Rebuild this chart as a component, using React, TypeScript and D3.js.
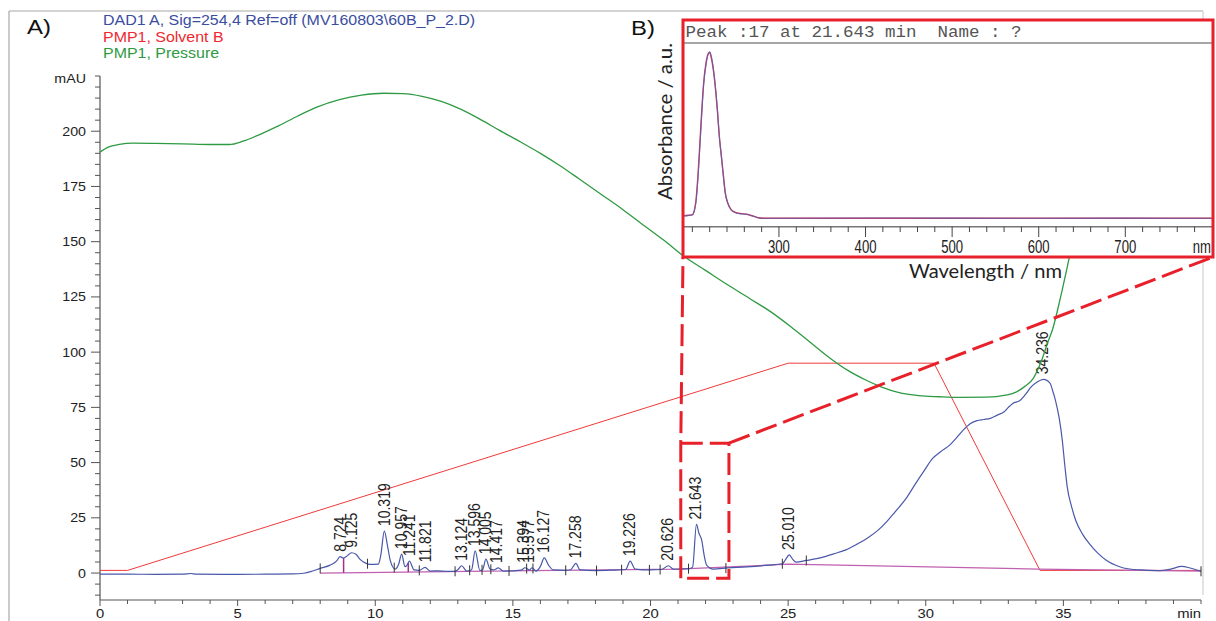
import React from 'react';
import * as d3 from 'd3';

const W = 1216;
const H = 621;

const LEGEND_LABELS = [
  'DAD1 A, Sig=254,4 Ref=off (MV160803\\60B_P_2.D)',
  'PMP1, Solvent B',
  'PMP1, Pressure',
];
const LEGEND_COLORS = ['#3a4da0', '#ee2a30', '#2f9a43'];

const X_MAJOR = [0, 5, 10, 15, 20, 25, 30, 35];
const Y_MAJOR = [0, 25, 50, 75, 100, 125, 150, 175, 200];

// DAD1 A chromatogram (time min, mAU)
const CHROM: [number, number][] = [
  [0, -0.5], [1, -0.5], [2, -0.6], [3, -0.5], [3.3, -0.2], [3.5, -0.5], [5, -0.6], [6, -0.5], [7, -0.4],
  [7.4, -0.1], [7.7, 0.8], [8.0, 2.1], [8.36, 3.6], [8.6, 5.5], [8.72, 7.4], [8.85, 6.8], [8.95, 7.5],
  [9.14, 9.2], [9.3, 8.5], [9.45, 6.2], [9.65, 4.5], [9.81, 3.9], [10.11, 4.0], [10.2, 8], [10.33, 19.0],
  [10.45, 12], [10.55, 5.5], [10.72, 1.8], [10.85, 4], [10.96, 8.6], [11.08, 2.9], [11.15, 3.5], [11.24, 5.4],
  [11.41, 1.4], [11.6, 1.2], [11.81, 2.6], [11.99, 0.9], [12.3, 1.0], [12.6, 0.8], [12.9, 0.8], [13.0, 1.5],
  [13.14, 3.3], [13.32, 0.9], [13.5, 1.5], [13.63, 10.0], [13.8, 1.2], [13.9, 1.5], [14.02, 6.3], [14.17, 1.8],
  [14.3, 1.4], [14.47, 2.3], [14.65, 0.9], [15.0, 1.0], [15.3, 1.3], [15.44, 2.4], [15.6, 1.4], [15.7, 2.4],
  [15.84, 0.9], [16.0, 3], [16.14, 6.9], [16.3, 3.5], [16.47, 1.4], [16.9, 1.2], [17.1, 1.5], [17.29, 4.4],
  [17.44, 1.4], [18.0, 1.1], [18.6, 1.3], [19.1, 1.6], [19.26, 5.4], [19.44, 1.8], [20.0, 1.4], [20.4, 1.6],
  [20.65, 3.3], [20.83, 1.8], [21.07, 1.8], [21.4, 2.0], [21.53, 2.7], [21.67, 22.0], [21.76, 18], [21.86, 14.9],
  [21.95, 8], [22.04, 3.6], [22.28, 1.8], [22.8, 2.3], [23.5, 2.8], [24.3, 3.6], [24.79, 4.2], [24.9, 6],
  [25.04, 8.2], [25.15, 6.5], [25.29, 4.9], [25.66, 5.7], [26.2, 7], [26.65, 8.7], [27.1, 10.5], [27.52, 13.2],
  [27.9, 16], [28.26, 19.3], [28.6, 23.5], [28.88, 27.6], [29.3, 34], [29.63, 40.5], [29.95, 46.5], [30.25, 51.9],
  [30.55, 55], [30.87, 57.9], [31.1, 61], [31.36, 64.7], [31.6, 67.5], [31.86, 69.0], [32.1, 69.5], [32.35, 70.0],
  [32.6, 71.5], [32.85, 73.0], [33.0, 75], [33.16, 76.8], [33.41, 78.0], [33.6, 80.5], [33.84, 84.4], [34.05, 86.5],
  [34.28, 87.7], [34.52, 85.9], [34.6, 83], [34.71, 78.3], [34.85, 70], [34.96, 60.2], [35.05, 49], [35.14, 39.0],
  [35.3, 30], [35.45, 23.8], [35.7, 17.5], [35.95, 13.2], [36.25, 9], [36.57, 5.7], [36.9, 3.5], [37.19, 2.3],
  [37.8, 1.4], [38.43, 1.1], [38.9, 1.8], [39.3, 3.0], [39.6, 2.3], [40, 0.8],
];

// PMP1 pressure trace (on the mAU axis)
const PRESSURE: [number, number][] = [
  [0, 190.5], [0.3, 192.8], [0.7, 194], [1.2, 194.6], [2.0, 194.5], [3.0, 194.3], [4.0, 194], [4.7, 194],
  [5.2, 195.5], [5.8, 198.5], [6.5, 202.5], [7.2, 207], [7.9, 211], [8.7, 214.3], [9.5, 216.3], [10.3, 217.2],
  [11.0, 217], [11.7, 215.8], [12.4, 213.5], [13.1, 210], [13.8, 205.5], [14.5, 200.5], [15.3, 195], [16.0, 190],
  [16.7, 184.5], [17.4, 178.5], [18.2, 171.5], [19.0, 164.5], [19.8, 157], [20.5, 150.5], [21.2, 143.5],
  [22.0, 137], [22.8, 130.5], [23.6, 124.3], [24.4, 118], [25.1, 111.5], [25.8, 104.5], [26.5, 97.5],
  [27.2, 91.5], [27.8, 87.5], [28.4, 84.2], [29.0, 81.8], [29.75, 80.3], [30.5, 79.8], [31.3, 79.5],
  [32.2, 79.6], [32.9, 80.5], [33.3, 82], [33.6, 84.5], [33.9, 88], [34.2, 96], [34.45, 105], [34.6, 110],
  [34.9, 125], [35.2, 142], [35.5, 160],
];

// PMP1 Solvent B gradient
const SOLVENT_B: [number, number][] = [[0, 1.2], [1.0, 1.2], [25.0, 95], [30.3, 95], [34.15, 1.2], [40, 1.2]];

// integration baseline
const INTEG_BASELINE: [number, number][] = [[8.0, 0.0], [21.0, 1.8], [25.0, 4.0], [34.1, 1.8], [40, 0.9]];

const PEAK_TIMES = [8.724, 9.125, 10.319, 10.957, 11.241, 11.821, 13.124, 13.596, 14.005, 14.417,
  15.394, 15.577, 16.127, 17.258, 19.226, 20.626, 21.643, 25.010, 34.236];
const PEAK_LABELS = ['8.724', '9.125', '10.319', '10.957', '11.241', '11.821', '13.124', '13.596', '14.005',
  '14.417', '15.394', '15.577', '16.127', '17.258', '19.226', '20.626', '21.643', '25.010', '34.236'];

const MARKER_TIMES = [8.0, 9.72, 10.69, 11.6, 12.9, 13.43, 13.88, 14.2, 14.86, 15.5, 15.73, 16.92, 18.04,
  18.95, 19.96, 20.35, 21.38, 22.74, 24.79, 25.66, 40.0];
const DROP_TIMES = [8.85, 11.2];

// zoomed region (peak 17)
const ZOOM_T = [21.1, 22.85];
const ZOOM_V = [-2.3, 58.8];

// UV spectrum of peak 17
const SPEC_NM = [190, 195, 200, 204, 207, 210, 213, 216, 218, 220, 222, 224.5, 227, 229, 231, 233.5, 236, 238,
  241, 244.8, 248, 251.6, 257, 263, 269.7, 276.5, 282, 300, 400, 500, 600, 700, 800];
const SPEC_BLUE = [1.4, 1.6, 2.0, 9, 28, 55, 80, 93, 98, 100, 97, 89, 77, 65, 50, 37, 24, 15, 9, 5, 3.8, 3,
  2.6, 2.4, 1.4, 0.2, 0, 0, 0.2, 0.1, 0, 0.1, 0];
const SPEC_RED = [1.6, 1.8, 2.2, 10, 30, 57, 81, 94, 98.5, 99.5, 96, 88, 76, 64, 50, 37.5, 25, 15.5, 9, 5.2,
  4, 3.2, 2.8, 2.4, 1.4, 0.3, 0, 0, 0, 0, 0, 0, 0];
const SPEC_TICKS = [300, 400, 500, 600, 700];

const INSET = { x: 683, y: 20, w: 530, h: 237 };

const SANS = "'Liberation Sans', Arial, sans-serif";
const HUMAN = "Lato, 'Open Sans', sans-serif";
const MONO = "'Liberation Mono', 'Courier New', monospace";
const SX = 1.14;

function interp(data: [number, number][], t: number) {
  for (let i = 0; i < data.length - 1; i++) {
    const [t0, v0] = data[i];
    const [t1, v1] = data[i + 1];
    if (t >= t0 && t <= t1) return v0 + ((v1 - v0) * (t - t0)) / (t1 - t0);
  }
  return data[data.length - 1][1];
}
function apex(t: number) {
  let m = -Infinity;
  for (const [tt, v] of CHROM) if (Math.abs(tt - t) <= 0.13) m = Math.max(m, v);
  return m === -Infinity ? interp(CHROM, t) : m;
}

const ST = ({ x, y, size, fill = '#222', anchor = 'start', sx = SX, family = SANS, children }: any) => (
  <text transform={`translate(${x},${y}) scale(${sx},1)`} fontSize={size} fill={fill}
    textAnchor={anchor} fontFamily={family}>{children}</text>
);

export default function App() {
  const x = d3.scaleLinear().domain([0, 40]).range([100, 1201]);
  const y = d3.scaleLinear().domain([-12.2, 225]).range([600, 76]);
  const smooth = d3.line<[number, number]>().x(d => x(d[0])).y(d => y(d[1])).curve(d3.curveMonotoneX);
  const straight = d3.line<[number, number]>().x(d => x(d[0])).y(d => y(d[1]));

  const sx = d3.scaleLinear().domain([190, 800]).range([683.7, 1211.9]);
  const sy = d3.scaleLinear().domain([0, 100]).range([218.3, 51.7]);
  const specLine = d3.line<number>().x((_, i) => sx(SPEC_NM[i])).y(d => sy(d)).curve(d3.curveMonotoneX);

  const yMinor = d3.range(-10, 226, 5);
  const xMinor = d3.range(0, 41, 1);
  const specMinor = d3.range(200, 800, 20);

  const zx0 = x(ZOOM_T[0]);
  const zx1 = x(ZOOM_T[1]);
  const zyTop = y(ZOOM_V[1]);
  const zyBot = y(ZOOM_V[0]);
  const red = '#e8202a';

  return (
    <svg width={W} height={H} style={{ position: 'absolute', left: 0, top: 0, background: '#fff' }}>
      {/* panel border */}
      <line x1={9} y1={11} x2={1203} y2={11} stroke="#a8a8a8" strokeWidth={1.2} />
      <line x1={9} y1={11} x2={9} y2={H} stroke="#a8a8a8" strokeWidth={1.2} />
      <line x1={1203} y1={11} x2={1203} y2={595} stroke="#d0d0d0" strokeWidth={1.2} />

      <ST x={27} y={34} size={21} fill="#111">A)</ST>
      {LEGEND_LABELS.map((l, i) => (
        <ST key={l} x={103} y={25 + i * 16.6} size={14} fill={LEGEND_COLORS[i]}>{l}</ST>
      ))}

      {/* y axis */}
      <line x1={100} y1={y(225)} x2={100} y2={600} stroke="#555" strokeWidth={1.2} />
      {yMinor.map(v => (
        <line key={'ym' + v} x1={Y_MAJOR.includes(v) ? 91 : 95} x2={100} y1={y(v)} y2={y(v)}
          stroke="#555" strokeWidth={1} />
      ))}
      {Y_MAJOR.map(v => (
        <ST key={'yl' + v} x={86} y={y(v) + 4.5} size={12.5} anchor="end" fill="#222">{v}</ST>
      ))}
      <ST x={86} y={83} size={12.5} anchor="end" fill="#222">mAU</ST>

      {/* x axis */}
      <line x1={100} y1={600} x2={1201} y2={600} stroke="#555" strokeWidth={1.2} />
      {xMinor.map(t => (
        <line key={'xm' + t} x1={x(t)} x2={x(t)} y1={600} y2={X_MAJOR.includes(t) ? 606 : 604}
          stroke="#555" strokeWidth={1} />
      ))}
      {X_MAJOR.map(t => (
        <ST key={'xl' + t} x={x(t)} y={618} size={13} anchor="middle" fill="#222">{t}</ST>
      ))}
      <ST x={1201} y={618} size={13} anchor="end" fill="#222">min</ST>

      {/* solvent B */}
      <path d={straight(SOLVENT_B) || ''} fill="none" stroke="#f03a3a" strokeWidth={1} />
      {/* integration baseline */}
      <path d={straight(INTEG_BASELINE) || ''} fill="none" stroke="#c060b0" strokeWidth={1.2} />
      {DROP_TIMES.map(t => (
        <line key={'dr' + t} x1={x(t)} x2={x(t)} y1={y(interp(INTEG_BASELINE, t))} y2={y(interp(CHROM, t))}
          stroke="#a0308a" strokeWidth={1.5} />
      ))}
      {/* chromatogram */}
      <path d={smooth(CHROM) || ''} fill="none" stroke="#4a58aa" strokeWidth={1.2} />
      {MARKER_TIMES.map(t => {
        const yy = y(interp(CHROM, t));
        return <line key={'mk' + t} x1={x(t)} x2={x(t)} y1={yy - 5} y2={yy + 5} stroke="#333" strokeWidth={1} />;
      })}
      {PEAK_TIMES.map((t, i) => (
        <text key={'pl' + i} transform={`translate(${x(t)},${y(apex(t)) - 5}) rotate(-90) scale(1,1.14)`}
          fontSize={14} fontFamily={SANS} fill="#222" dy="0.35em">{PEAK_LABELS[i]}</text>
      ))}

      {/* pressure */}
      <path d={smooth(PRESSURE) || ''} fill="none" stroke="#2f9a43" strokeWidth={1.3} />

      {/* zoom connectors */}
      <g fill="none" stroke={red} strokeWidth={3} strokeDasharray="22 7">
        <path d={`M${zx0},${zyBot} L${zx0},${zyTop} L${INSET.x},${INSET.y + INSET.h}`} />
        <path d={`M${zx0},${zyTop} L${zx1},${zyTop} L${zx1},${zyBot} L${zx0},${zyBot}`} />
        <path d={`M${zx1},${zyTop} L${INSET.x + INSET.w},${INSET.y + INSET.h}`} />
      </g>

      {/* inset B */}
      <ST x={631} y={35} size={21} fill="#111">B)</ST>
      <rect x={INSET.x} y={INSET.y} width={INSET.w} height={INSET.h} fill="#fff" />
      <text x={685.5} y={36.7} fontSize={16} fontFamily={MONO} fill="#555" textLength={336}
        lengthAdjust="spacingAndGlyphs" style={{ whiteSpace: 'pre' }}>Peak :17 at 21.643 min  Name : ?</text>
      <line x1={INSET.x} x2={INSET.x + INSET.w} y1={43} y2={43} stroke="#888" strokeWidth={1.6} />
      <path d={specLine(SPEC_RED) || ''} fill="none" stroke="#e83a4a" strokeWidth={1.4} />
      <path d={specLine(SPEC_BLUE) || ''} fill="none" stroke="#5060b8" strokeWidth={1.1} opacity={0.85} />
      <line x1={INSET.x} x2={INSET.x + INSET.w} y1={226.7} y2={226.7} stroke="#777" strokeWidth={1.4} />
      {specMinor.map(n => (
        <line key={'sm' + n} x1={sx(n)} x2={sx(n)} y1={226.7} y2={SPEC_TICKS.includes(n) ? 237 : 232}
          stroke="#444" strokeWidth={1} />
      ))}
      {SPEC_TICKS.map(n => (
        <ST key={'sl' + n} x={sx(n)} y={253} size={18} sx={0.73} anchor="middle" fill="#222">{n}</ST>
      ))}
      <ST x={1211} y={253} size={18} sx={0.73} anchor="end" fill="#222">nm</ST>
      <rect x={INSET.x} y={INSET.y} width={INSET.w} height={INSET.h} fill="none" stroke={red} strokeWidth={3} />
      <text transform="translate(672,200) rotate(-90)" fontSize={19} fontFamily={HUMAN} fill="#222"
        textLength={157} lengthAdjust="spacingAndGlyphs">Absorbance / a.u.</text>
      <text x={909} y={278} fontSize={18.5} fontFamily={HUMAN} fill="#222" textLength={153}
        lengthAdjust="spacingAndGlyphs">Wavelength / nm</text>
    </svg>
  );
}
